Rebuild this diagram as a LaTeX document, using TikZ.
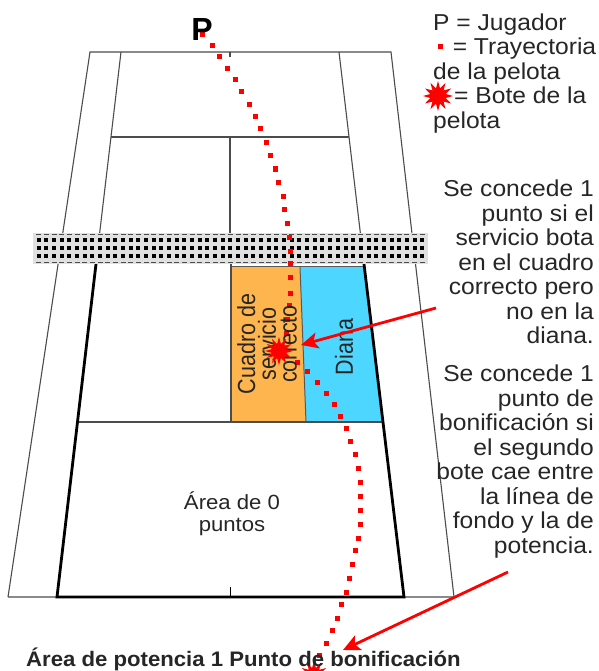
\documentclass[tikz,border=0pt]{standalone}
\usepackage{fontspec}
\setmainfont{Liberation Sans}
\usetikzlibrary{shapes.geometric,arrows.meta}
\definecolor{boxorange}{RGB}{255,181,77}
\definecolor{boxblue}{RGB}{77,214,255}
\tikzset{
  court/.style={line width=1.1pt,draw=black!70},
  thick court/.style={line width=2.8pt,draw=black,line cap=round},
  burst/.style={star,star points=12,star point ratio=1.9,fill=red,inner sep=0pt,minimum size=#1},
  pointer/.style={draw=red,line width=2.8pt,-{Stealth[length=17pt,width=16pt,inset=4pt]}},
  label/.style={align=center,font=\fontsize{20.5}{22}\selectfont,xscale=1.08,inner sep=0pt,text=black!85},
  rlabel/.style={align=right,anchor=north east,font=\fontsize{23}{24.5}\selectfont,xscale=1.07,inner sep=0pt,text=black!85},
  llabel/.style={align=left,anchor=north west,font=\fontsize{23}{24.5}\selectfont,xscale=1.07,inner sep=0pt,text=black!85},
  vlabel/.style={rotate=90,yscale=1.15,align=center,font=\fontsize{21.5}{18}\selectfont,inner sep=0pt,text=black!85},
}
\begin{document}
\begin{tikzpicture}[x=1pt,y=-1pt]
\useasboundingbox (0,0) rectangle (598,671);
\fill[white] (0,0) rectangle (598,671);
% coloured boxes
\fill[boxorange] (232,267) -- (300,267) -- (306,422) -- (231,422) -- cycle;
\fill[boxblue] (300,267) -- (364,267) -- (382,422) -- (306,422) -- cycle;
\draw[line width=1pt,black!65] (232,266) -- (364,266);
\draw[line width=1pt,black!65] (300,267) -- (306,422);
% court
\draw[court] (8,597) -- (90,52) -- (391,52) -- (454,597) -- (8,597);
\draw[court] (121,52) -- (96,264);
\draw[court] (339,52) -- (364,264);
\draw[court] (111,137) -- (349,137);
\draw[court] (230,137) -- (230,233);
\draw[court] (230,52) -- (230,57);
\draw[court] (231,264) -- (231,422);
\draw[court] (79,422) -- (382,422);
\draw[thick court] (96,264) -- (57,597) -- (404,597) -- (364,264);
\draw[line width=1.8pt,black] (230.5,597) -- (230.5,587);
% net
\fill[black!12] (33,233) rectangle (428,264);
\foreach \i in {0,...,50}{
  \pgfmathsetmacro{\nx}{38.7+7.67*\i}
  \fill[black] (\nx-2,238) rectangle (\nx+2,242);
  \fill[black] (\nx-2,246) rectangle (\nx+2,250);
  \fill[black] (\nx-2,253.5) rectangle (\nx+2,257.5);
  \fill[black!70] (\nx-2.5,233.6) rectangle (\nx+2.5,235);
  \fill[black!70] (\nx-2.5,261.5) rectangle (\nx+2.5,263);
}
% trajectory
\foreach \bx/\by in {202/35,212/46,219/57,227/69,235/80,241/92,249/105,255/117,260/129,266/143,270/156,275/169,278/182,283/196,284/209,287/223,289/237,290/251,290/263,290/277,290/293,289/305,287/319,286/333,297/362,307/371,317/382,326/393,334/404,340/416,346/428,350/441,355/454,358/468,360/482,360/496,360/510,360/524,358/538,355/550,352/564,349/578,346/592,341/604,337/618,332/630,326/643,319/655}
  \fill[red] (\bx-2.5,\by-2.5) rectangle (\bx+2.5,\by+2.5);
% texts
\node[font=\bfseries\fontsize{32}{32}\selectfont,inner sep=0pt,text=black] (player) at (202,29) {P};
\node[vlabel] (cuadro) at (267,344) {Cuadro de\\servicio\\correcto};
\node[vlabel] (diana) at (344,347) {Diana};
\node[label] (area0) at (232,514) {Área de 0\\puntos};
\node[burst=28pt] (bounce) at (279,351) {};
\node[burst=28pt] (bounce2) at (314,675) {};
\node[font=\bfseries\fontsize{21}{21}\selectfont,anchor=west,inner sep=0pt,text=black!85,xscale=1.055] (power) at (26,659) {Área de potencia 1 Punto de bonificación};
\node[llabel] (legend1) at (433,13.5) {P = Jugador};
\node[llabel] (legend2) at (433,38) {\phantom{\textbullet}\, = Trayectoria\\de la pelota};
\fill[red] (437.5,44) rectangle (442.5,49);
\node[burst=30pt] (legend3) at (438,96) {};
\node[llabel] (legend4) at (454,87) {= Bote de la};
\node[llabel] (legend5) at (433,111.5) {pelota};
\node[rlabel] (right1) at (594,180) {Se concede 1\\punto si el\\servicio bota\\en el cuadro\\correcto pero\\no en la\\diana.};
\node[rlabel] (right2) at (594,365) {Se concede 1\\punto de\\bonificación si\\el segundo\\bote cae entre\\la línea de\\fondo y la de\\potencia.};
% pointers
\coordinate (p1a) at (436,308);
\coordinate (p1b) at (301,345);
\coordinate (p2a) at (508,572);
\coordinate (p2b) at (343,650);
\draw[pointer] (p1a) -- (p1b);
\draw[pointer] (p2a) -- (p2b);
\end{tikzpicture}
\end{document}
